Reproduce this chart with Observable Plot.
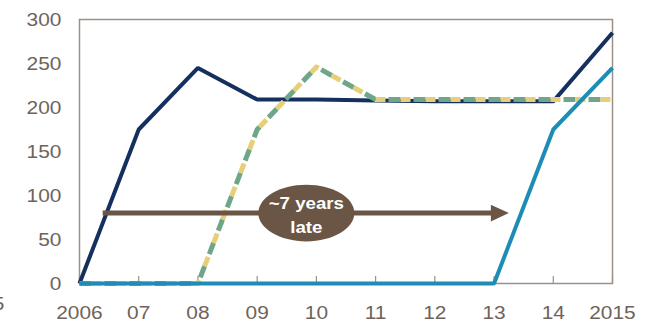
<!DOCTYPE html>
<html>
<head>
<meta charset="utf-8">
<script src="https://cdn.jsdelivr.net/npm/d3@7"></script>
<script src="https://cdn.jsdelivr.net/npm/@observablehq/plot@0.6"></script>
<style>
  html, body { margin: 0; padding: 0; background: #ffffff; }
  #chart { width: 650px; height: 320px; overflow: hidden; }
</style>
</head>
<body>
<div id="chart"></div>
<script>
// Years on the horizontal axis and their printed labels
const years = [2006, 2007, 2008, 2009, 2010, 2011, 2012, 2013, 2014, 2015];
const xTickLabels = ["2006", "07", "08", "09", "10", "11", "12", "13", "14", "2015"];
const yTicks = [0, 50, 100, 150, 200, 250, 300];

// Series values by year
const navySeries   = [0, 175, 245, 209, 209, 208, 207, 207, 207, 285];
const dashedSeries = [0, 0, 0, 175, 246, 209, 209, 209, 209, 209];
const cyanSeries   = [0, 0, 0, 0, 0, 0, 0, 0, 175, 245];

// Delay annotation: arrow from start to end year at a given level, label bubble centre
const arrowX = [2006.4, 2013.25];
const arrowLevel = [80];
const bubbleX = [2009.83];
const bubbleText = ["~7 years\nlate"];

const rows = years.map((year, i) => ({
  year,
  navy: navySeries[i],
  dashed: dashedSeries[i],
  cyan: cyanSeries[i]
}));

const ink = "#6e635b";
const frameColor = "#9b9088";
const brown = "#6b5646";

// Ellipse symbol (wider than tall) for the label bubble
const ellipseSymbol = {
  draw(ctx, size) {
    const rx = Math.sqrt(size / Math.PI), ry = rx * 0.59, k = 0.5523;
    ctx.moveTo(rx, 0);
    ctx.bezierCurveTo(rx, ry * k, rx * k, ry, 0, ry);
    ctx.bezierCurveTo(-rx * k, ry, -rx, ry * k, -rx, 0);
    ctx.bezierCurveTo(-rx, -ry * k, -rx * k, -ry, 0, -ry);
    ctx.bezierCurveTo(rx * k, -ry, rx, -ry * k, rx, 0);
    ctx.closePath();
  }
};

// Filled arrowhead whose tip sits on the anchor point
const headSymbol = {
  draw(ctx, size) {
    const r = Math.sqrt(size / Math.PI), h = r * 0.47;
    ctx.moveTo(0, 0);
    ctx.lineTo(-r, -h);
    ctx.lineTo(-r, h);
    ctx.closePath();
  }
};

const chart = Plot.plot({
  width: 650,
  height: 320,
  marginLeft: 79,
  marginRight: 38,
  marginTop: 19,
  marginBottom: 37,
  style: {
    fontFamily: "'Liberation Sans', Arial, sans-serif",
    fontSize: "19px",
    color: ink,
    background: "#ffffff",
    overflow: "visible"
  },
  x: {
    domain: [2006, 2015],
    ticks: years,
    tickFormat: (d) => xTickLabels[years.indexOf(d)],
    tickSize: 0,
    tickPadding: 22,
    label: null
  },
  y: {
    domain: [0, 300],
    ticks: yTicks,
    tickSize: 0,
    tickPadding: 18,
    label: null
  },
  marks: [
    Plot.frame({stroke: frameColor, strokeWidth: 1.5}),
    // short inward ticks along the base
    Plot.ruleX(years, {y1: 0, y2: 8, stroke: frameColor, strokeWidth: 1.2}),
    Plot.line(rows, {x: "year", y: "navy", stroke: "#15305f", strokeWidth: 4, strokeLinejoin: "miter", strokeLinecap: "butt"}),
    Plot.line(rows, {x: "year", y: "dashed", stroke: "#6fa68a", strokeWidth: 5, strokeDasharray: "12,13", strokeLinecap: "butt"}),
    Plot.line(rows, {x: "year", y: "dashed", stroke: "#e7cf79", strokeWidth: 5, strokeDasharray: "10,15", strokeDashoffset: 13, strokeLinecap: "butt"}),
    Plot.line(rows, {x: "year", y: "cyan", stroke: "#1d8db5", strokeWidth: 4, strokeLinejoin: "miter", strokeLinecap: "butt"}),
    // delay arrow
    Plot.ruleY(arrowLevel, {x1: arrowX[0], x2: arrowX[1], stroke: brown, strokeWidth: 5, insetRight: 12}),
    Plot.dot(arrowLevel, {x: arrowX[1], y: (d) => d, symbol: headSymbol, r: 18, fill: brown, stroke: "none"}),
    Plot.dot(arrowLevel, {x: bubbleX[0], y: (d) => d, symbol: ellipseSymbol, r: 48, fill: brown, stroke: "none"}),
    Plot.text(bubbleText, {x: bubbleX[0], y: arrowLevel[0], text: (d) => d, fill: "#ffffff", fontWeight: "bold", fontSize: 17, lineHeight: 1.45}),
    // clipped glyph at the lower-left edge
    Plot.text(["5"], {frameAnchor: "bottom-left", dx: -75, dy: 26, textAnchor: "end", fill: ink, fontSize: 19})
  ]
});

// Widen all lettering slightly around each text anchor
chart.querySelectorAll("text").forEach((t) => {
  const x = parseFloat(t.getAttribute("x")) || 0;
  const prev = t.getAttribute("transform") || "";
  t.setAttribute("transform", `${prev} translate(${x},0) scale(1.1,1) translate(${-x},0)`.trim());
});

document.getElementById("chart").appendChild(chart);
</script>
</body>
</html>
